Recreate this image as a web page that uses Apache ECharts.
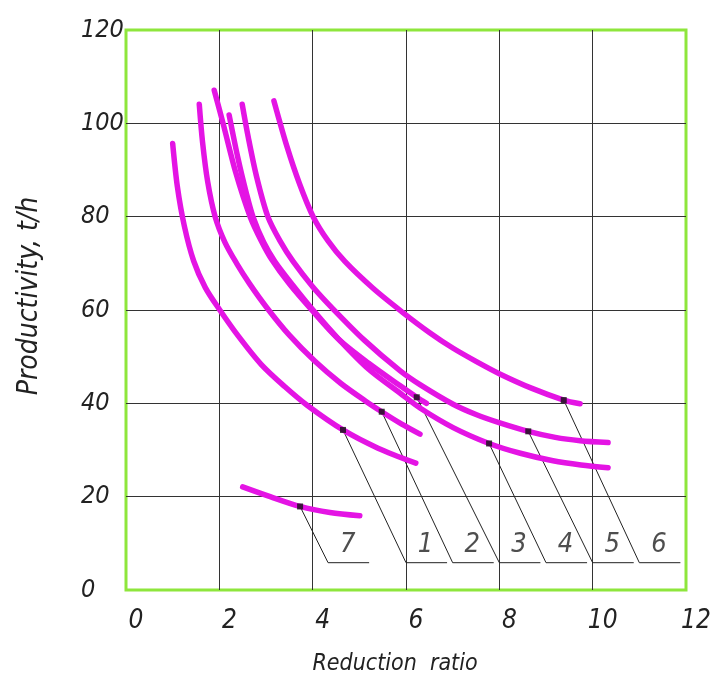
<!DOCTYPE html>
<html>
<head>
<meta charset="utf-8">
<script src="https://cdn.jsdelivr.net/npm/echarts@6/dist/echarts.min.js"></script>
<style>
  html, body { margin: 0; padding: 0; background: #fff; }
  #chart { width: 717px; height: 682px; }
</style>
</head>
<body>
<div id="chart"></div>
<script>
// curves (x = reduction ratio, y = t/h)
var c1x = [1.00, 1.10, 1.25, 1.45, 1.70, 2.01, 2.40, 2.90, 3.40, 3.88, 4.65, 5.40, 6.21];
var c1y = [95.7, 86.5, 78.0, 70.5, 64.8, 60.0, 54.5, 48.3, 43.6, 39.6, 34.3, 30.4, 27.2];

var c2x = [1.57, 1.64, 1.75, 1.91, 2.12, 2.37, 2.65, 3.01, 3.50, 4.05, 4.60, 5.16, 5.48, 5.90, 6.30];
var c2y = [104.1, 96.0, 87.5, 80.0, 74.5, 70.0, 65.6, 60.6, 54.6, 49.0, 44.3, 40.3, 38.2, 35.6, 33.4];

var c3x = [1.89, 2.08, 2.35, 2.66, 2.90, 3.13, 3.50, 3.98, 4.55, 5.20, 5.87, 6.23, 6.44];
var c3y = [107.1, 100.0, 89.5, 80.0, 74.8, 70.7, 65.6, 60.0, 53.8, 48.6, 43.8, 41.3, 40.0];

var c4x = [2.21, 2.40, 2.58, 2.72, 2.95, 3.19, 3.60, 4.04, 4.57, 5.20, 5.87, 6.30, 7.01, 7.78, 8.45, 9.15, 9.75, 10.33];
var c4y = [101.8, 92.5, 85.0, 80.0, 74.5, 70.4, 65.0, 59.6, 53.6, 47.3, 42.2, 39.0, 34.8, 31.4, 29.3, 27.7, 26.8, 26.2];

var c5x = [2.49, 2.62, 2.80, 3.04, 3.30, 3.58, 4.00, 4.44, 5.10, 5.87, 6.30, 7.01, 7.50, 8.01, 8.62, 9.20, 9.73, 10.33];
var c5y = [104.1, 97.0, 88.5, 80.0, 74.8, 70.4, 65.0, 60.2, 53.6, 47.0, 44.0, 39.8, 37.6, 35.8, 34.0, 32.7, 32.0, 31.6];

var c6x = [3.17, 3.45, 3.72, 4.01, 4.33, 4.69, 5.30, 5.94, 6.50, 7.01, 7.50, 8.01, 8.70, 9.38, 9.73];
var c6y = [104.8, 95.0, 87.0, 80.0, 74.8, 70.4, 64.6, 59.4, 55.2, 51.8, 49.0, 46.3, 43.2, 40.7, 39.9];

var c7x = [2.50, 3.09, 3.73, 4.37, 5.01];
var c7y = [22.1, 20.0, 17.9, 16.6, 15.9];

// numbered callouts: marker on curve -> foot of leader
var curveNames = ['1', '2', '3', '4', '5', '6', '7'];
var markX = [4.65, 5.48, 6.23, 7.78, 8.62, 9.38, 3.73];
var markY = [34.3, 38.2, 41.3, 31.4, 34.0, 40.7, 17.9];
var footX = [6.0, 7.0, 8.0, 9.0, 10.0, 11.0, 4.33];
var footY = 5.85;

var xTicks = [0, 2, 4, 6, 8, 10, 12];
var yTicks = [0, 20, 40, 60, 80, 100, 120];

var FONT = '"Liberation Sans Narrow", "DejaVu Sans Condensed", "Liberation Sans", sans-serif';
var MAGENTA = '#e414e4';
var SHELF = 0.88; // length of the horizontal shelf under each number

var myChart = echarts.init(document.getElementById('chart'));

function zip(xs, ys) {
    return xs.map(function (v, i) { return [v, ys[i]]; });
}

var curves = [[c1x, c1y], [c2x, c2y], [c3x, c3y], [c4x, c4y], [c5x, c5y], [c6x, c6y], [c7x, c7y]];
var series = [];

curves.forEach(function (c, i) {
    series.push({
        name: 'curve ' + curveNames[i],
        type: 'line',
        data: zip(c[0], c[1]),
        smooth: 0.3,
        showSymbol: false,
        z: 3,
        lineStyle: { color: MAGENTA, width: 5.5, cap: 'round' }
    });
});

// leaders
markX.forEach(function (mx, i) {
    series.push({
        type: 'line',
        data: [[mx, markY[i]], [footX[i], footY], [footX[i] + SHELF, footY]],
        showSymbol: false,
        silent: true,
        z: 2,
        lineStyle: { color: '#222', width: 1 }
    });
});

// small black markers on the curves
series.push({
    type: 'scatter',
    data: zip(markX, markY),
    symbol: 'rect',
    symbolSize: 6,
    z: 5,
    itemStyle: { color: '#111' }
});

// callout numbers
series.push({
    type: 'scatter',
    data: footX.map(function (fx, i) { return { value: [fx + 0.42, footY], name: curveNames[i] }; }),
    symbolSize: 1,
    itemStyle: { color: 'rgba(0,0,0,0)' },
    z: 5,
    label: {
        show: true,
        position: 'top',
        distance: 4,
        formatter: '{b}',
        fontFamily: FONT,
        fontStyle: 'italic',
        fontSize: 27,
        color: '#222'
    }
});

var option = {
    animation: false,
    backgroundColor: '#fff',
    grid: {
        left: 126, top: 30, right: 31, bottom: 92,
        show: true,
        borderColor: '#8ee63c',
        borderWidth: 3
    },
    xAxis: {
        type: 'value',
        min: 0, max: 12, interval: 2,
        name: 'Reduction  ratio',
        nameLocation: 'middle',
        nameGap: 63,
        nameTextStyle: {
            fontFamily: FONT, fontStyle: 'italic', fontSize: 23, color: '#222',
            padding: [0, 22, 0, 0]
        },
        axisLine: { show: false },
        axisTick: { show: false },
        axisLabel: {
            margin: 18,
            padding: [0, 0, 0, 20],
            fontFamily: FONT, fontStyle: 'italic', fontSize: 26, color: '#222',
            formatter: function (v) { return xTicks.indexOf(v) > -1 ? String(v) : ''; }
        },
        splitLine: {
            show: true, showMinLine: false, showMaxLine: false,
            lineStyle: { color: '#333', width: 1 }
        }
    },
    yAxis: {
        type: 'value',
        min: 0, max: 120, interval: 20,
        name: 'Productivity, t/h',
        nameLocation: 'middle',
        nameGap: 82,
        nameTextStyle: {
            fontFamily: FONT, fontStyle: 'italic', fontSize: 28, color: '#222',
            padding: [0, 0, 0, 28]
        },
        axisLine: { show: false },
        axisTick: { show: false },
        axisLabel: {
            margin: 45,
            align: 'left',
            padding: [0, 0, 14, 0],
            fontFamily: FONT, fontStyle: 'italic', fontSize: 25, color: '#222',
            formatter: function (v) { return yTicks.indexOf(v) > -1 ? String(v) : ''; }
        },
        splitLine: {
            show: true, showMinLine: false, showMaxLine: false,
            lineStyle: { color: '#333', width: 1 }
        }
    },
    series: series
};

myChart.setOption(option);
</script>
</body>
</html>
